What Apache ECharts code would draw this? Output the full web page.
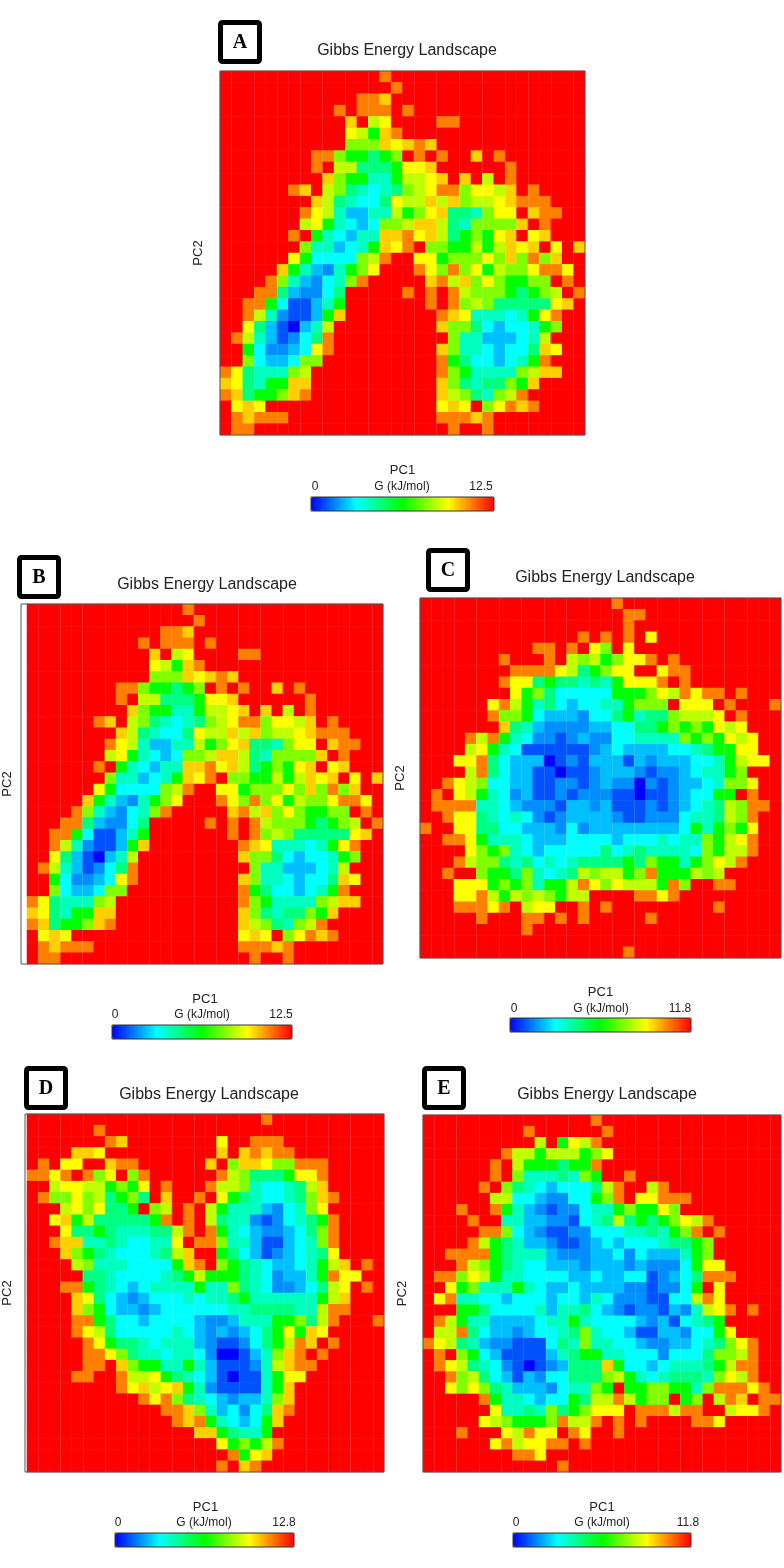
<!DOCTYPE html>
<html><head><meta charset="utf-8">
<style>html,body{margin:0;padding:0;background:#fff}#c{width:784px;height:1568px}</style>
<script src="https://cdn.jsdelivr.net/npm/echarts@6/dist/echarts.min.js"></script>
</head><body><div id="c"></div>
<script>
// Each row of a landscape: [first PC1 bin that is not plain red, energy-level codes]
// codes: 0 lowest ... 9, a, b, c, '.' = highest (red)
const rowsA = [
[14,"c"],[15,"c"],[12,"ccb"],[10,"c.ccc.c"],[11,"b.9a....cc"],[11,"a97bc"],[11,"888babcb"],
[8,"cc877678.c.c..b.c"],[8,"c.996667aab......c"],[9,"b87755799ab.b.9.c"],
[6,"cb.986545689acc8aa9b.c"],[8,"b965446a99b9b899abccc"],[7,"ca953355978ab6658aa.bcc"],
[7,"9a75434889bb9658888b.c"],[6,"c.754355bbcab96787ab.ab"],[7,"8553457bac.8877979bab.a.b"],
[6,"a7444489c..aa7888a8b8c8b"],[5,"b7532578a...ca8c8a7988acca"],[4,"c8532458c.....bc9b8a87788.c"],
[3,"cc632246.....c.c.c988876789.c"],[2,"cc7411357.......c.c89866666ab"],[2,"c9521137b........cba555457ac"],
[2,"a6310359.........b8864344578"],[1,"c9531246c..........855333459"],[2,"742234ac.........b85543446ba"],
[2,"8433488..........c76443457c"],[0,"ca655589...........c87555589bb"],[0,"ba6577bb...........b8656687b"],
[0,"cb6778bc...........b986589c"],[1,"aba...............aba.8acbc"],[1,"cbccc.............cccbc"],[1,"cc.................c..c"]
];
const rowsB = rowsA;
const rowsC = [
[17,"c"],[18,"cc"],[18,"c"],[14,"c.c.c.a"],[10,"cc.c.a8.a"],[7,"c...c.98978aac.c"],[8,"cccca9678aa..acc"],
[7,"caa67665657aaac.c"],[8,"a786444447778a9cacc.c"],[6,"ac97564344557888.aaa.c...c"],
[6,"c8874333244675668999a.c"],[7,"b653222233446678787a9a"],
[4,"c9c754 2212322 44 5555 8787 a9a"],[4,"9a754 111111 234 3333 44 5677 aa"],
[3,"aac64333 0121 333 132333 44579aa"],[4,"9c6433 11011 2333 2122 34 5578"],
[2,"ca984433 11221 2322 021 233 4588a"],[1,"c.a975423 1121 222 11011 2344 77.c"],
[1,"cccc5543 2221 3323 11121 23456 98cc"],[2,"caa65454 212 3333 211222 4556 98c"],
[0,"c..aa66443 33242 33333333 47 5787a"],[2,"cca75554 333 4444 3 444 5455 879ac"],
[4,"a87854 3 44444 6 4 5 6 5555 4 8799c"],[3,"c988656 4545 6666 7 6 877 578a9c"],
[2,"c..87768 5456 9899 78c 777 989"],[3,"aaa7878 5779 ca8a 9997 c8..cc"],
[3,"aac97989 8799 .... ccac"],[3,"cccac.9aa..c.c.........c"],[5,"c...cc.c.c.....c"],[9,"c"],[0,""],[18,"c"]
];
const rowsD = [
[21,"c"],[6,"c"],[7,"cb........a..ccc"],[4,"bba .......... b.bcbcc"],[1,"c.aa..bcc......b.8bba88ccc"],
[0,"ccac.c8a.8c ...... c986667aac"],[2,"9aa99787a.c...c 998544569b"],[1,"c88a896786.b..c.a 76544568bc"],
[3,"9a8a667.89.c.9 755532458a"],[2,"ab79 66666 7c.c.9 655 212 4567c"],[3,"a667655566 9c.c 754322 3468c"],
[2,"cbb55654455a.cc 855311 3458c"],[3,"b876544456 9b.. 764312 3456a"],[4,"985554444 7bc. 87654334579b.c"],
[5,"66544445 67977 765423357 caa"],[3,"cc7654345555 7558 65422346 9a.c"],[4,"ba64323444 5455 67 555555 79b"],
[4,"b8743323 444444 55 6666 55 9cc"],[4,"cc76443 4444 3223 555 77 86 9c ...c"],[4,"ca96 44444 54 32323 4 67a7ba"],
[5,"ca7665 4555 32112 4679cb.c"],[5,"cca865 5455 42001 358bc.c"],[5,"cc.b877 5575 3111 259bcc"],
[4,"cc..c99a 7654 3 1011 57aa"],[8,"cab9ab75 21111 57b"],[10,"cac8654323358b"],[12,"ccb8534246bc"],
[13,"cbc754347b"],[15,"bb76557"],[17,"a7879c"],[18,"c7ab"],[17,"c.bc"]
];
const rowsE = [
[15,"c"],[9,"c......c"],[10,"9.7a9c"],[7,"c99799978a"],[6,"c.9777677c"],[6,"c.85556587..c"],
[5,"c.8654344469c..9c"],[6,"99443224478c.aaccc"],[3,"c..c75321224 557877a8"],[4,"c..5533 2214 569 6767 8a9c"],
[5,"cc843 21122 444 55 65 78c.c"],[4,"c97653 32112 34 3 444 566 78"],[2,"cccc76555 3222 33 42 4333 578"],
[3,"c9876544 333 2 333 2 3 222 47aa"],[1,"cc8a9755 4444 33 4 33 44 1234 6ccc"],[2,"a7855575 4334 3333 22122 47.a"],
[1,"ac554434 44 3 44 3 54 222 11 44 9ca"],[3,"776 4444 5355 64 321221 32 59ac.c"],[1,"c9755 3333 4557 5 4444 3 231 4567"],
[1,"99c64 3323 44 568 5443 11 332 447a"],[0,"ca965 322111 4658 55 443 22 33 4568ac"],[1,"c.8743 1111 3 5677 55 44 42 444 6889c"],
[1,"ca96542 1012 3 666 b7 44 34 555 679cc"],[2,"c89643 132 44 666 897 545 666 58a9c"],[2,"a8a865 3332 455 87. 77 88 77 5 8cccac"],
[5,"c7554 344 76 99c9 788.78.9cb.cc"],[6,"a55658678aaa.ccc9cc..9aac"],[5,"a987778c99c.c.c....cca"],
[3,"c...a9caa.ca..c"],[6,"ac9aacc.c"],[8,"cca"],[12,"c"]
];
const levelShare = {'0':0,'1':.08,'2':.14,'3':.1875,'4':.25,'5':.3125,'6':.375,'7':.5,'8':.625,'9':.688,'a':.75,'b':.796,'c':.875,'.':1};
const energyMax = [12.5,12.5,11.8,12.8,11.8];
const panelRows = [rowsA,rowsB,rowsC,rowsD,rowsE];
const panelLetters = ['A','B','C','D','E'];
const binCount = 32;
const bins = Array.from({length:binCount},(_,i)=>String(i));
const rainbow = ['#0000ff','#00ffff','#00ff00','#ffff00','#ff0000'];

// layout only
const layout = [
 {l:220,t:71,w:365,h:364, box:[218,20], title:[402,47], x2:[311,497,183], labels:[315,402,481,487], nx:29, ny:15},
 {l:21,t:604,w:362,h:360, box:[17,555], title:[202,581], x2:[112,1025,180], labels:[115,202,281,1015], nx:29, ny:13},
 {l:420,t:598,w:361,h:360, box:[426,548], title:[600,574], x2:[510,1018,181], labels:[514,601,680,1009], nx:28, ny:13},
 {l:25,t:1114,w:359,h:358, box:[24,1066], title:[204,1091], x2:[115,1533,179], labels:[118,204,284,1523], nx:29, ny:13},
 {l:423,t:1115,w:358,h:357, box:[422,1066], title:[602,1091], x2:[513,1533,178], labels:[516,602,688,1523], nx:29, ny:14}
];

function decode(rows,max){
  const out=[];
  for(let y=0;y<binCount;y++){
    const cells=new Array(binCount).fill(max);
    const [start,codes]=rows[y];
    codes.replace(/\s/g,'').split('').forEach((ch,i)=>{ if(start+i<binCount) cells[start+i]=+(levelShare[ch]*max).toFixed(3); });
    cells.forEach((v,x)=>out.push([x,y,v]));
  }
  return out;
}

const font='"Liberation Sans", Arial, sans-serif';
const grid=[],xAxis=[],yAxis=[],series=[],visualMap=[],title=[],graphic=[];
const txt=(x,y,s,size,extra)=>graphic.push(Object.assign({type:'text',x,y,z:20,silent:true,style:Object.assign({text:s,font:size+'px '+font,fill:'#222',textAlign:'center',textVerticalAlign:'middle'},extra||{})}));
panelRows.forEach((rows,i)=>{
  const p=layout[i], max=energyMax[i];
  grid.push({left:p.l,top:p.t,width:p.w,height:p.h,containLabel:false});
  xAxis.push({type:'category',gridIndex:i,data:bins,z:5,name:'PC1',nameLocation:'middle',nameGap:p.nx,
    nameTextStyle:{fontFamily:font,fontSize:13,color:'#222'},
    axisLabel:{show:false},axisTick:{show:false},axisLine:{show:false},
    splitLine:{show:true,interval:(n)=>n%2===1,lineStyle:{color:'rgba(255,255,255,0.13)',width:1}}});
  yAxis.push({type:'category',gridIndex:i,data:bins,inverse:true,name:'PC2',nameLocation:'middle',nameGap:p.ny,nameRotate:90,
    nameTextStyle:{fontFamily:font,fontSize:13,color:'#222'},
    axisLabel:{show:false},axisTick:{show:false},axisLine:{show:false},splitLine:{show:false}});
  series.push({type:'heatmap',xAxisIndex:i,yAxisIndex:i,data:decode(rows,max),progressive:0,animation:false,
    emphasis:{disabled:true},itemStyle:{borderWidth:0}});
  visualMap.push({type:'continuous',seriesIndex:i,min:0,max:max,orient:'horizontal',left:p.x2[0],top:p.x2[1],
    itemWidth:14,itemHeight:p.x2[2],padding:0,text:null,calculable:false,realtime:false,hoverLink:false,showLabel:false,
    inRange:{color:rainbow}});
  title.push({text:'Gibbs Energy Landscape',left:p.title[0],top:p.title[1]-9,textAlign:'center',
    textStyle:{fontFamily:font,fontSize:16,fontWeight:'normal',color:'#222'}});
  // plot frame
  graphic.push({type:'rect',z:20,silent:true,shape:{x:p.l,y:p.t,width:p.w,height:p.h},style:{fill:'none',stroke:'#555',lineWidth:1}});
  // colour-bar frame
  graphic.push({type:'rect',z:20,silent:true,shape:{x:p.x2[0],y:p.x2[1],width:p.x2[2],height:14},style:{fill:'none',stroke:'#333',lineWidth:1}});
  // letter box
  graphic.push({type:'rect',z:20,silent:true,shape:{x:p.box[0]+2.5,y:p.box[1]+2.5,width:39,height:39,r:2},style:{fill:'#fff',stroke:'#000',lineWidth:5}});
  txt(p.box[0]+22,p.box[1]+23,panelLetters[i],20,{font:'bold 20px "Liberation Serif", serif',fill:'#000'});
  txt(p.labels[0],p.labels[3],'0',12);
  txt(p.labels[1],p.labels[3],'G (kJ/mol)',12);
  txt(p.labels[2],p.labels[3],String(max),12);
});
const chart=echarts.init(document.getElementById('c'),null,{renderer:'canvas'});
chart.setOption({animation:false,backgroundColor:'#fff',title,grid,xAxis,yAxis,visualMap,series,graphic,tooltip:{show:false}});
</script></body></html>
